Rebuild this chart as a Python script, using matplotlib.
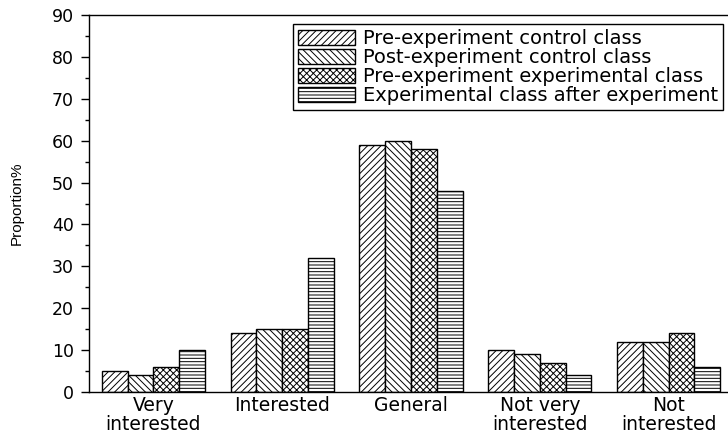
import numpy as np
import matplotlib
matplotlib.use("Agg")
import matplotlib.pyplot as plt

plt.rcParams["font.family"] = ["DejaVu Sans"]
plt.rcParams["hatch.linewidth"] = 0.7

categories = ["Very\ninterested", "Interested", "General", "Not very\ninterested", "Not\ninterested"]
series_names = [
    "Pre-experiment control class",
    "Post-experiment control class",
    "Pre-experiment experimental class",
    "Experimental class after experiment",
]
pre_control = [5, 14, 59, 10, 12]
post_control = [4, 15, 60, 9, 12]
pre_experimental = [6, 15, 58, 7, 14]
post_experimental = [10, 32, 48, 4, 6]

series = [pre_control, post_control, pre_experimental, post_experimental]
hatches = ["/////", "\\\\\\\\\\", "xxxxx", "-----"]

fig = plt.figure(figsize=(7.28, 4.41), dpi=100)
ax = fig.add_axes([89 / 728, 49 / 441, 644 / 728, 377 / 441])

x = np.arange(len(categories))
width = 0.2
for i, (vals, name, h) in enumerate(zip(series, series_names, hatches)):
    ax.bar(x + (i - 1.5) * width, vals, width, label=name, color="white",
           edgecolor="black", linewidth=1.0, hatch=h)

ax.set_xlim(-0.5, 4.5)
ax.set_ylim(0, 90)
ax.set_yticks(np.arange(0, 91, 10))
ax.set_yticks(np.arange(0, 91, 5), minor=True)
ax.set_xticks(x)
ax.set_xticklabels(categories, fontsize=13.5, linespacing=1.0)
ax.tick_params(axis="x", length=0, pad=3)
ax.tick_params(axis="y", which="major", direction="out", length=6, width=1,
               labelsize=12.5, right=True, pad=5)
ax.tick_params(axis="y", which="minor", direction="out", length=3, width=1, right=True)
for s in ax.spines.values():
    s.set_linewidth(1.0)

ax.set_ylabel("Proportion%", fontsize=11, labelpad=20,
              family=["Liberation Sans Narrow", "Liberation Sans"])

leg = ax.legend(loc="upper right", bbox_to_anchor=(0.985, 0.975), borderaxespad=0,
                fontsize=14, handlelength=2.9, handleheight=0.75, handletextpad=0.45,
                labelspacing=0.0, borderpad=0.25, fancybox=False, framealpha=1)
leg.get_frame().set_edgecolor("black")
leg.get_frame().set_linewidth(1.0)

fig.savefig("out.png", dpi=100)
